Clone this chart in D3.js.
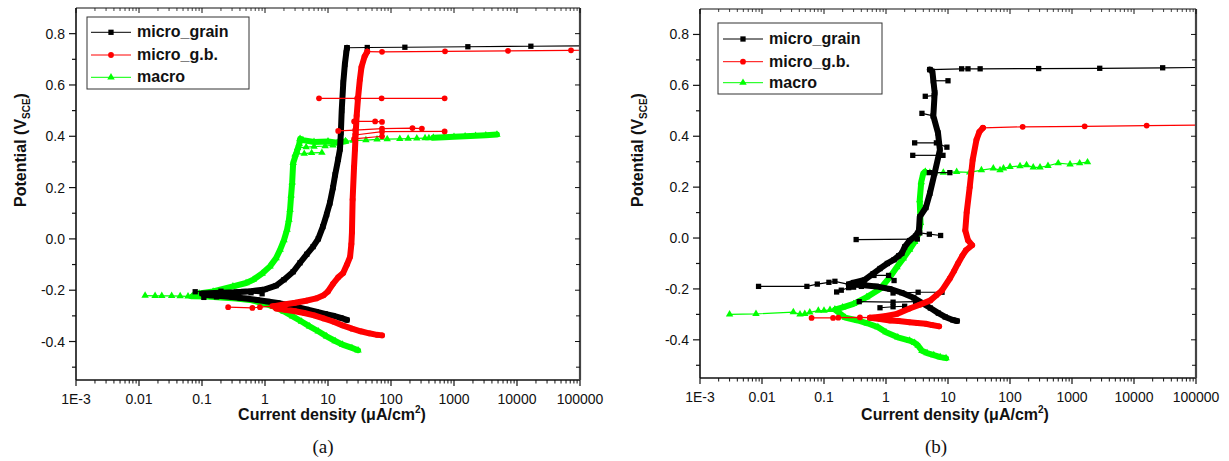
<!DOCTYPE html>
<html>
<head>
<meta charset="utf-8">
<script src="https://cdn.jsdelivr.net/npm/d3@7"></script>
<style>
  body { margin: 0; background: #fff; }
  svg text { font-family: "Liberation Sans", Arial, sans-serif; fill: #111; }
</style>
</head>
<body>
<script>
// axis ticks
const xDecades = [1e-3, 1e-2, 1e-1, 1, 10, 100, 1000, 1e4, 1e5];
const xTickLabels = ["1E-3", "0.01", "0.1", "1", "10", "100", "1000", "10000", "100000"];
const yTickValues = [-0.4, -0.2, 0.0, 0.2, 0.4, 0.6, 0.8];
const yTickLabels = ["-0.4", "-0.2", "0.0", "0.2", "0.4", "0.6", "0.8"];
const seriesNames = ["micro_grain", "micro_g.b.", "macro"];

// ---- panel (a) : [current density uA/cm2, potential V] ----
const grainA_band = [[20,-0.316],[16,-0.308],[12,-0.299],[9,-0.292],[6.5,-0.284],[4.6,-0.275],[3.3,-0.266],[2.3,-0.257],[1.6,-0.25],[1.1,-0.244],[0.75,-0.238],[0.5,-0.232],[0.3,-0.227],[0.18,-0.222],[0.11,-0.218],
  [0.1,-0.213],[0.2,-0.21],[0.35,-0.208],[0.6,-0.204],[1.0,-0.197],[1.5,-0.182],[2.0,-0.159],[2.8,-0.128],[3.6,-0.093],[4.6,-0.06],[5.8,-0.03],[7.0,0.0],[8.3,0.048],[9.5,0.095],[10.7,0.14],[12,0.2],[13,0.25],[14.5,0.31],[15.5,0.35],[16,0.414],[16.5,0.5],[17.5,0.61],[18.5,0.68],[19.5,0.725],[20,0.745]];
const grainA_dots = [
  [[20,0.745],[42,0.746],[166,0.747],[1660,0.749],[16600,0.751],[166000,0.753]],
  [[0.078,-0.206],[0.2,-0.204],[0.35,-0.207]],
  [[0.107,-0.228],[0.14,-0.221],[0.17,-0.226],[0.4,-0.23]],
  [[0.46,-0.205],[0.6,-0.21],[0.9,-0.214]]
];
const gbA_band = [[72,-0.376],[60,-0.374],[45,-0.368],[33,-0.36],[24,-0.35],[17,-0.337],[12,-0.322],[8.5,-0.31],[6,-0.298],[4.2,-0.289],[3,-0.282],[2.1,-0.276],[1.5,-0.271],
  [1.4,-0.262],[2,-0.256],[3,-0.249],[4.5,-0.241],[6.5,-0.232],[8.5,-0.22],[10,-0.205],[12,-0.175],[14.5,-0.15],[17.4,-0.133],[20,-0.1],[22.4,-0.07],[23.5,-0.02],[24,0.025],[24.6,0.153],[25.9,0.28],[26.8,0.348],[27.5,0.41],[28.5,0.48],[30,0.55],[32,0.62],[34,0.67],[38,0.71],[42,0.73]];
const gbA_dots = [
  [[0.26,-0.266],[0.63,-0.269],[0.83,-0.266],[1.3,-0.262]],
  [[42,0.73],[72,0.729],[720,0.731],[7200,0.733],[72000,0.735],[720000,0.737]],
  [[7.2,0.548],[29,0.548],[71,0.548],[710,0.548]],
  [[26,0.458],[56,0.458],[72,0.456]],
  [[14.5,0.421],[27,0.424],[72,0.43],[219,0.432],[309,0.43]],
  [[27,0.405],[72,0.418],[710,0.419]],
  [[26,0.39],[72,0.4]]
];
const macroA_band = [[30,-0.434],[24,-0.425],[17,-0.412],[13,-0.398],[9.5,-0.38],[7,-0.36],[5.1,-0.341],[3.8,-0.322],[2.75,-0.302],[2,-0.283],[1.35,-0.263],[0.9,-0.25],[0.58,-0.238],[0.35,-0.232],[0.2,-0.228],[0.12,-0.225],[0.07,-0.224],
  [0.09,-0.213],[0.15,-0.205],[0.31,-0.185],[0.5,-0.172],[0.65,-0.159],[0.9,-0.135],[1.2,-0.107],[1.5,-0.075],[1.74,-0.042],[2.0,-0.005],[2.24,0.036],[2.4,0.075],[2.5,0.114],[2.6,0.17],[2.7,0.22],[2.8,0.296],[3.2,0.34],[3.5,0.37],[3.6,0.39],[4,0.385],[6,0.378],[10,0.38],[14,0.375],[19,0.38]];
const macroA_dots = [
  [[0.0125,-0.221],[0.018,-0.222],[0.023,-0.222],[0.033,-0.222],[0.045,-0.223],[0.06,-0.224],[0.07,-0.224]],
  [[3.0,0.33],[4.2,0.332],[5.5,0.335],[8,0.336]],
  [[3.3,0.355],[4.5,0.358],[6,0.36],[9,0.362],[12,0.365]],
  [[19,0.38],[25,0.383],[40,0.385],[60,0.388],[87,0.389],[138,0.39],[187,0.391],[257,0.392],[347,0.393],[400,0.393],[470,0.394]]
];
const macroA_tailBand = [[470,0.394],[700,0.396],[1000,0.398],[1500,0.4],[2200,0.402],[3200,0.404],[4800,0.407]];

// ---- panel (b) ----
const grainB_band = [[14,-0.326],[12,-0.322],[9,-0.31],[7,-0.295],[5.2,-0.275],[3.8,-0.255],[2.8,-0.235],[1.8,-0.215],[1.15,-0.2],[0.7,-0.19],[0.4,-0.185],[0.25,-0.182],
  [0.3,-0.175],[0.45,-0.165],[0.62,-0.14],[0.8,-0.12],[1.05,-0.1],[1.35,-0.085],[1.6,-0.07],[1.8,-0.06],[2.0,-0.035],[2.4,-0.01],[3.0,0.008],[3.4,0.03],[3.5,0.083],[4.4,0.12],[5.1,0.176],[6.1,0.256],[7.4,0.346],[6.9,0.413],[5.8,0.48],[6.1,0.571],[5.6,0.655],[5.1,0.662]];
const grainB_dots = [
  [[5.1,0.662],[16.6,0.665],[21,0.665],[33,0.665],[290,0.666],[2800,0.667],[29000,0.669],[290000,0.671]],
  [[0.0088,-0.19],[0.053,-0.19],[0.078,-0.181],[0.12,-0.174],[0.15,-0.17],[0.25,-0.182]],
  [[0.16,-0.212],[0.19,-0.205],[0.25,-0.195],[0.3,-0.193],[0.4,-0.19]],
  [[0.33,-0.006],[3.2,-0.004]],
  [[0.37,-0.25],[1.3,-0.252],[3.0,-0.25]],
  [[0.8,-0.274],[1.3,-0.27],[2.0,-0.268]],
  [[0.64,-0.147],[1.1,-0.147],[1.35,-0.167]],
  [[1.3,-0.216],[3.3,-0.213],[8.0,-0.213]],
  [[2.9,0.374],[6.5,0.374],[9.6,0.357]],
  [[2.7,0.325],[8.3,0.325]],
  [[5,0.257],[10.7,0.257]],
  [[5.8,0.618],[10,0.618]],
  [[4.3,0.557],[6,0.56]],
  [[3.8,0.49],[5.8,0.48]],
  [[3.5,0.02],[5,0.015],[7.6,0.01]]
];
const gbB_band = [[7.2,-0.347],[5.5,-0.342],[4.4,-0.337],[3.2,-0.334],[2.4,-0.331],[1.6,-0.326],[1.16,-0.324],[0.8,-0.318],[0.55,-0.313],
  [0.75,-0.31],[1.0,-0.306],[1.5,-0.298],[2.4,-0.277],[3.5,-0.262],[5.2,-0.245],[6.5,-0.225],[8,-0.206],[10.7,-0.159],[12.5,-0.13],[14.5,-0.1],[17,-0.07],[19.5,-0.048],[24.5,-0.028],[21,-0.009],[19,0.03],[20,0.1],[22.4,0.2],[25,0.307],[28.8,0.386],[32,0.417],[36.6,0.433]];
const gbB_dots = [
  [[0.063,-0.314],[0.14,-0.314],[0.17,-0.313],[0.38,-0.312],[0.55,-0.313]],
  [[36.6,0.433],[160,0.437],[1600,0.439],[16000,0.442],[160000,0.444]]
];
const macroB_band = [[9.3,-0.472],[7.5,-0.468],[5.9,-0.46],[4.6,-0.452],[3.8,-0.443],[3.3,-0.423],[2.9,-0.412],[2.4,-0.403],[1.55,-0.39],[1.0,-0.37],[0.74,-0.35],[0.5,-0.335],[0.35,-0.324],[0.22,-0.313],
  [0.15,-0.281],[0.2,-0.272],[0.3,-0.259],[0.49,-0.232],[0.8,-0.2],[1.16,-0.153],[1.5,-0.114],[1.9,-0.08],[2.4,-0.045],[2.9,-0.015],[3.4,0.02],[3.6,0.06],[3.5,0.149],[3.7,0.22],[4.0,0.255],[4.3,0.26]];
const macroB_dots = [
  [[0.003,-0.30],[0.008,-0.298],[0.032,-0.291],[0.041,-0.30],[0.049,-0.298],[0.059,-0.292],[0.081,-0.285],[0.10,-0.285],[0.125,-0.282],[0.15,-0.281]],
  [[4.3,0.26],[5.1,0.257],[8.4,0.257],[13.8,0.26],[22.4,0.258],[34.6,0.267],[53.8,0.274],[69,0.267],[78.5,0.274],[100,0.28],[145,0.283],[185,0.287],[237,0.278],[305,0.278],[410,0.284],[600,0.294],[930,0.29],[1330,0.294],[1780,0.298]]
];

const colors = ["#000000", "#ff0000", "#00ff00"];
const symbols = [d3.symbolSquare, d3.symbolCircle, d3.symbolTriangle];
const symbolSizes = [28, 26, 24];
const drawOrder = [2, 0, 1]; // macro under, then grain, then g.b.

const svg = d3.select("body").append("svg")
  .attr("width", 1229).attr("height", 461);

function drawPanel(cfg) {
  const x = d3.scaleLog().domain([1e-3, 1e5]).range([cfg.left, cfg.right]);
  const y = d3.scaleLinear().domain([-0.55, 0.9]).range([cfg.bottom, cfg.top]);
  const line = d3.line().x(d => x(d[0])).y(d => y(d[1]));

  svg.append("clipPath").attr("id", cfg.id + "clip")
    .append("rect")
    .attr("x", cfg.left).attr("y", cfg.top)
    .attr("width", cfg.right - cfg.left).attr("height", cfg.bottom - cfg.top);

  const plot = svg.append("g").attr("clip-path", "url(#" + cfg.id + "clip)");

  drawOrder.forEach(i => {
    const s = cfg.series[i];
    const sym = d3.symbol().type(symbols[i]).size(symbolSizes[i]);
    s.bands.forEach(b => {
      plot.append("path").datum(b).attr("d", line)
        .attr("fill", "none").attr("stroke", colors[i])
        .attr("stroke-width", 6)
        .attr("stroke-linejoin", "round").attr("stroke-linecap", "round");
      plot.selectAll(null).data(b).enter().append("path")
        .attr("d", sym).attr("fill", colors[i])
        .attr("transform", d => "translate(" + x(d[0]) + "," + y(d[1]) + ")");
    });
    s.dots.forEach(seg => {
      plot.append("path").datum(seg).attr("d", line)
        .attr("fill", "none").attr("stroke", colors[i]).attr("stroke-width", 1.2);
      plot.selectAll(null).data(seg).enter().append("path")
        .attr("d", sym).attr("fill", colors[i])
        .attr("transform", d => "translate(" + x(d[0]) + "," + y(d[1]) + ")");
    });
  });

  // frame
  const ax = svg.append("g").attr("stroke", "#111").attr("fill", "none");
  ax.append("line").attr("x1", cfg.left).attr("x2", cfg.right).attr("y1", cfg.top).attr("y2", cfg.top).attr("stroke-width", 1.2);
  ax.append("line").attr("x1", cfg.left).attr("x2", cfg.right).attr("y1", cfg.bottom).attr("y2", cfg.bottom).attr("stroke-width", 1.6);
  ax.append("line").attr("x1", cfg.left).attr("x2", cfg.left).attr("y1", cfg.top).attr("y2", cfg.bottom).attr("stroke-width", 1.6);
  ax.append("line").attr("x1", cfg.right).attr("x2", cfg.right).attr("y1", cfg.top).attr("y2", cfg.bottom).attr("stroke-width", 2.2).attr("stroke", "#444");

  // x ticks (bottom outward, top inward)
  const minors = [];
  xDecades.slice(0, -1).forEach(d => { for (let k = 2; k <= 9; k++) minors.push(d * k); });
  xDecades.forEach(v => {
    ax.append("line").attr("x1", x(v)).attr("x2", x(v)).attr("y1", cfg.bottom).attr("y2", cfg.bottom + 6).attr("stroke-width", 1.2);
    ax.append("line").attr("x1", x(v)).attr("x2", x(v)).attr("y1", cfg.top).attr("y2", cfg.top + 5).attr("stroke-width", 1);
  });
  minors.forEach(v => {
    ax.append("line").attr("x1", x(v)).attr("x2", x(v)).attr("y1", cfg.bottom).attr("y2", cfg.bottom + 3.5).attr("stroke-width", 1);
    ax.append("line").attr("x1", x(v)).attr("x2", x(v)).attr("y1", cfg.top).attr("y2", cfg.top + 3).attr("stroke-width", 0.8);
  });
  // y ticks (left outward, right inward)
  d3.range(-5, 9).map(k => k / 10).forEach(v => {
    const major = Math.abs(Math.round(v * 10)) % 2 === 0;
    ax.append("line").attr("x1", cfg.left - (major ? 7 : 4)).attr("x2", cfg.left).attr("y1", y(v)).attr("y2", y(v)).attr("stroke-width", 1.2);
    ax.append("line").attr("x1", cfg.right - (major ? 5 : 4)).attr("x2", cfg.right).attr("y1", y(v)).attr("y2", y(v)).attr("stroke-width", 1);
  });

  xDecades.forEach((v, i) => {
    svg.append("text").attr("x", x(v)).attr("y", cfg.bottom + 24)
      .attr("text-anchor", "middle").attr("font-size", 14).text(xTickLabels[i]);
  });
  yTickValues.forEach((v, i) => {
    svg.append("text").attr("x", cfg.left - 11).attr("y", y(v) + 5)
      .attr("text-anchor", "end").attr("font-size", 14).text(yTickLabels[i]);
  });

  // axis titles
  const xt = svg.append("text").attr("x", cfg.xTitleX).attr("y", 420)
    .attr("text-anchor", "middle").attr("font-size", 16).attr("font-weight", "bold");
  xt.append("tspan").text("Current density (\u03bcA/cm");
  xt.append("tspan").attr("font-size", 10).attr("dy", -7).text("2");
  xt.append("tspan").attr("dy", 7).text(")");

  const yt = svg.append("text")
    .attr("transform", "translate(" + cfg.yTitleX + ",150) rotate(-90)")
    .attr("text-anchor", "middle").attr("font-size", 16).attr("font-weight", "bold");
  yt.append("tspan").text("Potential (V");
  yt.append("tspan").attr("font-size", 10).attr("dy", 4).text("SCE");
  yt.append("tspan").attr("dy", -4).text(")");

  svg.append("text").attr("x", cfg.labelX).attr("y", 453)
    .attr("text-anchor", "middle").attr("font-size", 19)
    .style("font-family", "'Liberation Serif', 'Times New Roman', serif")
    .text(cfg.label);

  // legend
  const L = cfg.legend;
  svg.append("rect").attr("x", L.x).attr("y", L.y).attr("width", L.w).attr("height", L.h)
    .attr("fill", "#fff").attr("stroke", "#333").attr("stroke-width", 1);
  seriesNames.forEach((name, i) => {
    const cy = L.rows[i];
    svg.append("line").attr("x1", L.lx).attr("x2", L.lx + 40).attr("y1", cy).attr("y2", cy)
      .attr("stroke", colors[i]).attr("stroke-width", 1);
    svg.append("path").attr("d", d3.symbol().type(symbols[i]).size(symbolSizes[i])())
      .attr("fill", colors[i]).attr("transform", "translate(" + (L.lx + 20) + "," + cy + ")");
    svg.append("text").attr("x", L.lx + 46).attr("y", cy + 5)
      .attr("font-size", 16).attr("font-weight", "bold").text(name);
  });
}

drawPanel({
  id: "a", left: 76, right: 580, top: 8, bottom: 380,
  xTitleX: 332, yTitleX: 26, labelX: 323, label: "(a)",
  legend: { x: 87, y: 17, w: 162, h: 72, lx: 91, rows: [32.3, 55, 77.3] },
  series: [
    { bands: [grainA_band], dots: grainA_dots },
    { bands: [gbA_band], dots: gbA_dots },
    { bands: [macroA_band, macroA_tailBand], dots: macroA_dots }
  ]
});

drawPanel({
  id: "b", left: 700, right: 1196, top: 9, bottom: 378,
  xTitleX: 955, yTitleX: 643, labelX: 936, label: "(b)",
  legend: { x: 718, y: 23, w: 164, h: 71, lx: 723, rows: [39, 61.7, 82.7] },
  series: [
    { bands: [grainB_band], dots: grainB_dots },
    { bands: [gbB_band], dots: gbB_dots },
    { bands: [macroB_band], dots: macroB_dots }
  ]
});
</script>
</body>
</html>
